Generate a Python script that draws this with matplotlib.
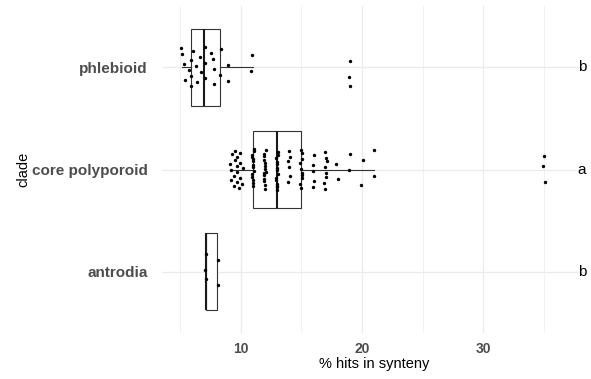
import numpy as np
import matplotlib
matplotlib.use("Agg")
from matplotlib import pyplot as plt

plt.rcParams['font.family'] = ['Liberation Sans', 'DejaVu Sans']

# clades, bottom to top
clades = ['antrodia', 'core polyporoid', 'phlebioid']
letters = ['b', 'a', 'b']

antrodia = [7.15, 7.15, 7.15, 8.1, 8.1]
core_polyporoid = ([9.1, 9.2, 9.3, 9.3, 9.4, 9.5, 9.5, 9.6, 9.6, 9.7, 9.7, 9.8, 9.8, 9.9, 10.0, 10.0, 10.1, 10.1]
                   + [11] * 14 + [12] * 14 + [13] * 14 + [14] * 6 + [15] * 10
                   + [16] * 5 + [17] * 8 + [18] * 2 + [19] * 2 + [20] * 2 + [21] * 2 + [35] * 3)
phlebioid = [5.17, 5.25, 5.36, 5.2, 5.8, 5.86, 5.91, 5.94, 6.19, 6.27, 6.35, 6.68, 6.82, 6.95,
             7.01, 7.07, 7.64, 7.69, 7.73, 7.7, 8.33, 8.33, 8.93, 8.93, 11, 11, 19, 19, 19]
groups = [antrodia, core_polyporoid, phlebioid]

W, H = 591, 379
fig = plt.figure(figsize=(W / 100, H / 100), dpi=100)
ax = fig.add_axes([162 / W, 1 - 333 / H, (585.5 - 162) / W, (333 - 6) / H])

ax.set_xlim(3.53, 38.43)
ax.set_ylim(0.4, 3.6)

# grid like theme_minimal
for x in [10, 20, 30]:
    ax.axvline(x, color='#EBEBEB', lw=0.9, zorder=0)
for x in [5, 15, 25, 35]:
    ax.axvline(x, color='#EBEBEB', lw=0.5, zorder=0)
for y in range(1, 4):
    ax.axhline(y, color='#EBEBEB', lw=0.9, zorder=0)

ax.boxplot(groups, positions=[1, 2, 3], vert=False, widths=0.75, whis=1.5,
           showfliers=False, patch_artist=True,
           boxprops=dict(facecolor='white', edgecolor='#333333', lw=0.8),
           whiskerprops=dict(color='#333333', lw=0.8),
           capprops=dict(lw=0),
           medianprops=dict(color='#1a1a1a', lw=1.5), zorder=2)

# deterministic jitter
for k, vals in enumerate(groups):
    vals = np.asarray(vals, dtype=float)
    i = np.arange(len(vals)) + 7 * k
    u = (i * 0.6180339887 + 0.31) % 1
    v = (i * 0.7548776662 + 0.57) % 1
    ys = k + 1 + (u - 0.5) * 0.4
    xs = vals + (v - 0.5) * 0.2
    ax.scatter(xs, ys, s=6, color='black', lw=0, zorder=3)

for k, lab in enumerate(letters):
    ax.text(37.8, k + 1, lab, ha='left', va='center', fontsize=11, color='black')

ax.set_xticks([10, 20, 30])
ax.set_xticklabels(['10', '20', '30'], fontweight='bold', fontsize=10, color='#4D4D4D')
ax.set_yticks([1, 2, 3])
ax.set_yticklabels(clades, fontweight='bold', fontsize=11, color='#4D4D4D')
ax.tick_params(axis='y', length=0, pad=10.5)
ax.tick_params(axis='x', length=0, pad=6.5)
for s in ax.spines.values():
    s.set_visible(False)

ax.set_xlabel('% hits in synteny', fontsize=10.5, labelpad=1)
ax.set_ylabel('clade', fontsize=10.5, labelpad=1)

fig.savefig('out.png', dpi=100)
